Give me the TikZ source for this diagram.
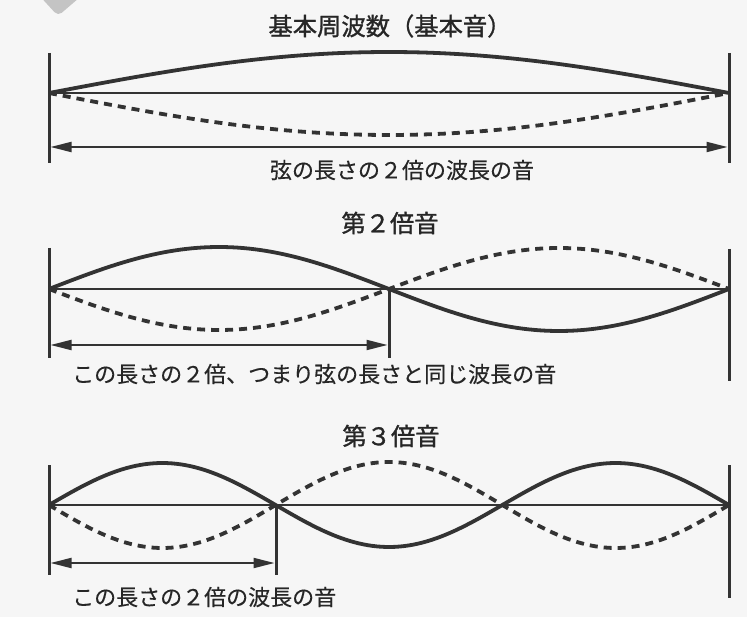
\documentclass[tikz,border=0pt]{standalone}
\usepackage{fontspec}
\newfontfamily\cjk[FakeBold=0.35]{Noto Sans CJK JP}
\newfontfamily\cjkh[FakeBold=1.2]{Noto Sans CJK JP}
\usetikzlibrary{arrows.meta}
\definecolor{ink}{HTML}{333333}
\definecolor{txt}{HTML}{262626}
\definecolor{bg}{HTML}{F6F6F6}
\definecolor{deco}{HTML}{C4C4C4}
\tikzset{
 bar/.style={draw=ink, line width=3pt},
 axisline/.style={draw=ink, line width=2.8pt},
 wave/.style={draw=ink, line width=3.8pt},
 dwave/.style={draw=ink, line width=3.8pt, dash pattern=on 8pt off 6pt},
 spanarrow/.style={draw=ink, line width=2pt, {Triangle[length=21pt,width=10pt]}-{Triangle[length=21pt,width=10pt]}},
 titletext/.style={font=\cjkh\fontsize{24.3}{27}\selectfont, text=txt, inner sep=0pt},
 captext/.style={font=\cjk\fontsize{22}{24}\selectfont, text=txt, inner sep=0pt},
}
\begin{document}
\begin{tikzpicture}[x=1pt,y=-1pt]
\path[use as bounding box, fill=bg] (0,0) rectangle (747,617);
\clip (0,0) rectangle (747,617);
% decoration in the corner
\fill[deco, rounded corners=5pt] (36,-8) -- (86,-8) -- (58,16) -- cycle;

% ---------- section 1 ----------
\node[titletext] (t1) at (390,26) {基本周波数（基本音）};
\coordinate (a1) at (49,93);
\coordinate (b1) at (729,93);
\coordinate (a1t) at (49,53);
\coordinate (a1b) at (49,163);
\coordinate (b1t) at (729,53);
\coordinate (b1b) at (729,163);
\coordinate (s1l) at (50.5,147);
\coordinate (s1r) at (727.5,147);
\draw[bar] (a1t) -- (a1b);
\draw[bar] (b1t) -- (b1b);
\draw[axisline] (a1) -- (b1);
\draw[wave] plot[domain=0:1, samples=80] ({49+680*\x}, {93-41*sin(180*\x)});
\draw[dwave] plot[domain=0:1, samples=80] ({49+680*\x}, {93+42*sin(180*\x)});
\draw[spanarrow] (s1l) -- (s1r);
\node[captext] (c1) at (402,170) {弦の長さの２倍の波長の音};

% ---------- section 2 ----------
\node[titletext] (t2) at (390,223) {第２倍音};
\coordinate (a2) at (49,289);
\coordinate (m2) at (389,289);
\coordinate (b2) at (729,289);
\coordinate (a2t) at (49,248);
\coordinate (a2b) at (49,358);
\coordinate (m2b) at (389,358);
\coordinate (b2t) at (729,249);
\coordinate (b2b) at (729,381);
\coordinate (s2l) at (50.5,345);
\coordinate (s2r) at (387.5,345);
\draw[bar] (a2t) -- (a2b);
\draw[bar] (m2) -- (m2b);
\draw[bar] (b2t) -- (b2b);
\draw[axisline] (a2) -- (b2);
\draw[wave] plot[domain=0:1, samples=120] ({49+680*\x}, {289-42*sin(360*\x)});
\draw[dwave] plot[domain=0:1, samples=120] ({49+680*\x}, {289+41*sin(360*\x)});
\draw[spanarrow] (s2l) -- (s2r);
\node[captext, anchor=west] (c2) at (72,374) {この長さの２倍、つまり弦の長さと同じ波長の音};

% ---------- section 3 ----------
\node[titletext] (t3) at (391,436) {第３倍音};
\coordinate (a3) at (49,505);
\coordinate (m3) at (276,505);
\coordinate (b3) at (729,505);
\coordinate (a3t) at (49,465);
\coordinate (a3b) at (49,575);
\coordinate (m3b) at (276,575);
\coordinate (b3t) at (729,465);
\coordinate (b3b) at (729,598);
\coordinate (s3l) at (50.5,563);
\coordinate (s3r) at (274.5,563);
\draw[bar] (a3t) -- (a3b);
\draw[bar] (m3) -- (m3b);
\draw[bar] (b3t) -- (b3b);
\draw[axisline] (a3) -- (b3);
\draw[wave] plot[domain=0:1, samples=150] ({49+680*\x}, {505-42*sin(540*\x)});
\draw[dwave] plot[domain=0:1, samples=150] ({49+680*\x}, {505+43*sin(540*\x)});
\draw[spanarrow] (s3l) -- (s3r);
\node[captext, anchor=west] (c3) at (72,597) {この長さの２倍の波長の音};
\end{tikzpicture}
\end{document}
